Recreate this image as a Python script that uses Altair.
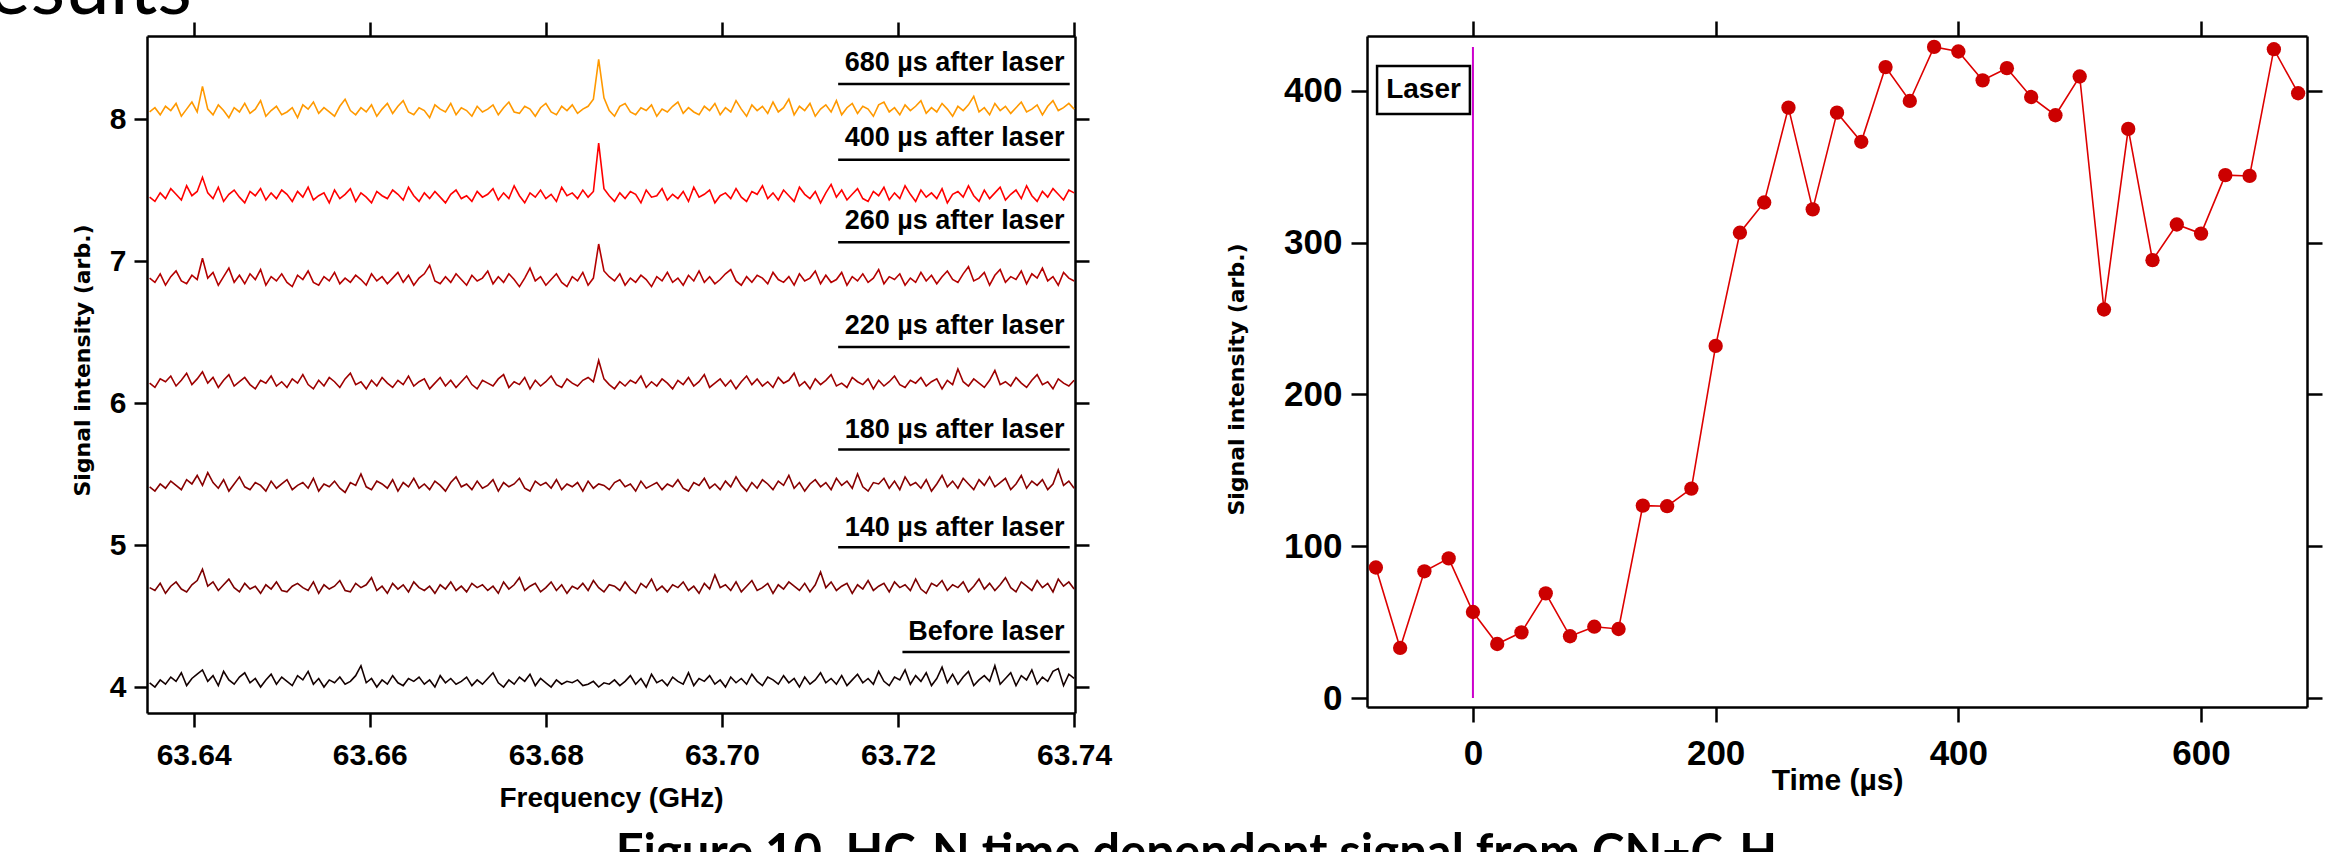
import altair as alt
import pandas as pd

# ---------------- left panel: spectra ----------------
trace_names = ["680 µs after laser", "400 µs after laser", "260 µs after laser",
               "220 µs after laser", "180 µs after laser", "140 µs after laser", "Before laser"]
trace_colors = ["#FF9900", "#FF0000", "#B40000", "#9E0000", "#880000", "#7C0000", "#140000"]
trace_base = [8.05, 7.44, 6.85, 6.12, 5.40, 4.68, 4.02]
freq_start = 63.635
freq_end = 63.740

# offsets from the trace baseline, in units of 0.01 (read/estimated from the picture)
off_680 = [0, 3, -2, 4, 1, 6, -3, 2, 7, 0, 18, 2, -2, 5, 1, -4, 3, 0, 6, -1,
           2, 8, -3, 1, 4, -2, 0, 3, -4, 5, 2, 7, -1, 3, 0, -3, 4, 9, 1, -2,
           3, 0, 5, -3, 2, 6, -1, 4, 8, 0, -2, 3, 1, -4, 5, 2, 0, 6, -2, 3,
           1, -3, 4, 0, 2, 5, -2, 3, 7, 0, -1, 4, 2, -3, 3, 6, 0, -2, 4, 1,
           5, -1, 2, 4, 9, 37, 10, 1, -3, 4, 6, 0, -2, 3, 1, 5, -3, 2, 0, 4,
           7, -1, 3, 0, -2, 4, 1, 6, -2, 3, 0, 8, 2, -3, 5, 1, 4, -1, 7, 0,
           3, 9, -2, 4, 1, 6, -3, 2, 5, 0, 8, -2, 3, 6, -1, 4, 2, -3, 5, 7,
           0, 3, -2, 5, 1, 4, 8, -1, 3, 0, 6, 2, -3, 4, 1, 5, 11, 0, 3, -2,
           6, 1, 4, -1, 3, 7, 0, 2, 5, -2, 4, 8, 1, 3, 6, 2]
off_400 = [1, -2, 4, 0, 7, 3, -1, 9, 2, 5, 15, 4, 0, 8, -2, 3, 6, 1, -3, 5,
           2, 7, -1, 4, 0, 6, 3, -2, 5, 1, 8, -1, 2, 4, -3, 6, 0, 3, 7, -2,
           4, 1, -3, 5, 2, 0, 6, 3, -1, 8, 2, -2, 4, 0, 5, 1, -3, 3, 6, 0,
           2, -2, 5, 1, 3, 7, -1, 4, 0, 9, 2, -3, 4, 1, 6, 0, 3, -2, 8, 2,
           4, 0, 6, 1, 5, 39, 7, 2, -2, 4, 0, 5, 3, -3, 6, 1, 2, 7, -1, 3,
           0, 5, -2, 8, 1, 3, 6, -3, 2, 4, 0, 7, 1, -2, 5, 3, 9, 0, 4, -1,
           6, 2, -2, 8, 3, 0, 5, -3, 4, 10, 1, 6, -1, 3, 7, 0, -2, 5, 2, 8,
           -1, 4, 0, 9, 3, -2, 6, 1, 4, 0, 7, -3, 3, 5, 1, 9, 2, -2, 6, 0,
           4, 8, -1, 3, 6, 0, 9, 2, -2, 5, 1, 7, 3, -1, 6, 4]
off_260 = [3, 0, 6, -2, 4, 8, 1, -1, 5, 2, 17, 3, 7, -2, 4, 10, 0, 5, -1, 6,
           2, 9, -2, 4, 1, 6, 0, -3, 5, 2, 8, 0, -2, 4, 1, 7, -1, 3, 0, 5,
           2, -2, 6, 1, 4, -1, 3, 7, 0, 5, -2, 3, 6, 12, 1, -1, 4, 0, 6, 2,
           -2, 5, 1, 3, 8, -1, 4, 0, 6, 2, -3, 3, 10, 1, 4, -2, 2, 6, 0, -3,
           4, 1, 7, -2, 3, 27, 8, 4, 1, 6, -2, 3, 0, 5, 2, -3, 4, 1, 7, 0,
           3, -2, 5, 1, 8, 0, 4, -1, 2, 6, 9, 1, -2, 4, 0, 5, 3, -1, 7, 2,
           0, 4, -2, 6, 1, 3, 8, -1, 5, 0, 2, 7, -2, 4, 1, 6, 0, 3, 9, -1,
           4, 2, 6, -2, 3, 0, 7, 1, 5, -1, 4, 8, 2, 0, 6, 11, 1, 3, 7, -2,
           5, 9, 0, 4, 2, 8, -1, 6, 3, 10, 1, 4, -2, 7, 3, 1]
off_220 = [2, -1, 5, 3, 7, 0, 4, 9, 1, 5, 10, 2, 6, -1, 4, 8, 0, 3, 6, 1,
           -2, 4, 2, 7, 0, 3, -1, 5, 2, 8, 1, -2, 4, 0, 6, 3, -1, 5, 9, 1,
           3, -2, 4, 0, 6, 2, -1, 4, 1, 7, 0, 3, 5, -2, 2, 6, 0, 4, -1, 3,
           7, 1, -2, 4, 2, 0, 5, 8, -1, 3, 1, 6, -2, 4, 0, 3, 7, 1, -1, 5,
           2, 0, 4, 6, 3, 18, 5, 1, -2, 3, 0, 4, 2, 7, -1, 3, 0, 5, 2, -2,
           4, 1, 6, 0, 3, 8, -1, 2, 5, 0, 4, -2, 3, 7, 1, 5, 0, 3, -1, 6,
           2, 4, 9, 0, 3, -2, 5, 1, 4, 8, 0, 2, -1, 6, 3, 1, 5, -2, 4, 0,
           3, 7, 1, -1, 4, 2, 6, 0, 3, 5, -2, 4, 1, 12, 3, 0, 5, 2, -1, 4,
           11, 1, 3, 0, 6, 2, -1, 4, 8, 1, 3, -2, 5, 2, 0, 4]
off_180 = [1, -2, 3, 0, 5, 2, -1, 6, 3, 9, 2, 11, 4, 0, 6, -2, 3, 8, 1, -1,
           4, 2, -2, 5, 0, 3, 6, -1, 2, 4, 0, 7, -2, 3, 1, 5, 0, -3, 4, 2,
           10, 1, -1, 5, 3, 0, 6, -2, 4, 1, 7, 0, 3, -1, 5, 2, -2, 4, 8, 1,
           3, -1, 5, 0, 2, 6, -2, 4, 1, 3, 7, 0, -2, 5, 2, 4, 0, 6, -1, 3,
           1, 4, -2, 5, 0, 3, 2, -1, 4, 6, 1, 3, -2, 5, 0, 2, 4, -1, 3, 1,
           6, 0, -2, 4, 2, 7, 0, 3, -1, 5, 1, 8, 2, -2, 4, 0, 6, 3, -1, 5,
           2, 9, 0, 4, -2, 3, 6, 1, 4, -1, 7, 2, 5, 0, 10, 1, -2, 4, 3, 7,
           0, 5, -1, 8, 2, 4, 0, 6, -2, 3, 9, 1, 5, 0, 7, 3, -1, 6, 2, 8,
           1, 4, 7, -1, 3, 9, 0, 5, 2, 6, -1, 3, 13, 2, 5, 0]
off_140 = [2, 0, 5, -2, 3, 6, 1, -1, 4, 7, 15, 3, 6, 0, 4, 8, 2, -1, 5, 1,
           3, -2, 4, 1, 6, 0, -1, 3, 5, 2, 0, 6, -2, 4, 1, 3, 7, 0, -1, 5,
           2, 4, 9, 0, 3, -2, 5, 1, 4, -1, 6, 2, 0, 3, -2, 4, 1, 6, 0, 3,
           -1, 5, 2, 4, 0, 3, -2, 6, 1, 4, 9, 0, 3, 5, -1, 2, 6, 0, 4, -2,
           3, 1, 5, 0, 7, 2, -1, 4, 3, 0, 6, 1, -2, 5, 2, 8, 0, 3, -1, 4,
           2, 6, 0, 3, -2, 5, 1, 11, 2, 4, 0, 6, -1, 3, 7, 0, 2, 5, -2, 4,
           1, 6, 3, 0, 5, -1, 4, 13, 2, 6, 0, 3, 5, -2, 4, 1, 7, 0, 3, 5,
           -1, 6, 2, 4, 0, 8, 1, -2, 5, 3, 7, 0, 4, 2, 6, -1, 3, 8, 1, 5,
           0, 4, 9, 2, -1, 6, 3, 0, 7, 2, 5, -1, 8, 3, 6, 1]
off_before = [1, -2, 3, 0, 5, 2, 8, -1, 4, 7, 10, 2, 6, -1, 9, 3, 0, 5, 8, 1,
              4, -2, 3, 7, 0, 5, 2, -1, 6, 3, 9, 0, 4, -2, 3, 1, 5, 0, 2, 6,
              13, 1, 4, -2, 3, 0, 6, 1, -1, 4, 2, 5, 0, 3, -2, 6, 1, 4, 0, 2,
              5, -1, 3, 0, 4, 8, 1, -2, 3, 0, 5, 2, 7, -1, 4, 1, -2, 3, 0, 2,
              1, 3, -1, 0, 2, -2, 1, 0, 3, -1, 2, 6, 0, 4, -2, 7, 1, 3, -1, 5,
              2, 0, 8, -1, 4, 2, 6, 0, 3, -2, 5, 1, 4, 0, 7, 2, -1, 5, 3, 0,
              6, 1, 4, -2, 5, 0, 3, 8, 1, 4, 0, 6, -1, 3, 7, 1, 4, 0, 9, 2,
              -1, 5, 3, 10, 0, 6, 2, 8, -1, 4, 12, 1, 7, 0, 5, 9, -1, 3, 6, 2,
              13, 0, 4, 8, -1, 6, 3, 10, 0, 5, 2, 9, 11, -1, 7, 4]
trace_offsets = [off_680, off_400, off_260, off_220, off_180, off_140, off_before]

label_y = [8.336, 7.807, 7.224, 6.487, 5.756, 5.066, 4.333]
underline_y = [8.247, 7.713, 7.132, 6.394, 5.672, 4.984, 4.246]
underline_x1 = [63.7132, 63.7132, 63.7132, 63.7132, 63.7132, 63.7132, 63.7205]
underline_x2 = [63.7395] * 7
label_x = [63.7389] * 7

freq_ticks = [63.64, 63.66, 63.68, 63.70, 63.72, 63.74]
left_y_ticks = [4, 5, 6, 7, 8]

# ---------------- right panel: time dependence ----------------
times = [-80, -60, -40, -20, 0, 20, 40, 60, 80, 100, 120, 140, 160, 180,
         200, 220, 240, 260, 280, 300, 320, 340, 360, 380, 400, 420, 440, 460,
         480, 500, 520, 540, 560, 580, 600, 620, 640, 660, 680]
signal = [86, 33, 83.5, 92, 56.7, 35.6, 43.3, 69, 40.7, 47, 45.5, 126.8, 126.4, 138,
          232, 306.6, 326.5, 389, 322, 385.7, 366.5, 415.7, 393.4, 429, 426, 407, 415, 396,
          384, 409.5, 256, 375, 288.5, 312, 306, 344.5, 344, 427.5, 398.5]
time_ticks = [0, 200, 400, 600]
right_y_ticks = [0, 100, 200, 300, 400]
laser_time = [0]
laser_span = [0, 429]
laser_box = [-79, -2.5, 384.8, 416.5]   # x1, x2, y1, y2 in data units
laser_label = ["Laser"]

page_heading = "Results"
caption_text = "Figure 10. HC₃N time dependent signal from CN+C₂H₂"

# ---------------- build tables ----------------
rows = []
for name, base, offs in zip(trace_names, trace_base, trace_offsets):
    n = len(offs)
    for i, d in enumerate(offs):
        rows.append({"name": name,
                     "freq": freq_start + (freq_end - freq_start) * i / (n - 1),
                     "val": base + d / 100.0})
df_tr = pd.DataFrame(rows)
df_lbl = pd.DataFrame({"name": trace_names, "lx": label_x, "ly": label_y,
                       "ux1": underline_x1, "ux2": underline_x2, "uy": underline_y})
df_sig = pd.DataFrame({"t": times, "s": signal})
df_laser = pd.DataFrame({"t": laser_time, "y1": [laser_span[0]], "y2": [laser_span[1]]})
df_box = pd.DataFrame({"x1": [laser_box[0]], "x2": [laser_box[1]], "y1": [laser_box[2]],
                       "y2": [laser_box[3]], "label": laser_label,
                       "xc": [(laser_box[0] + laser_box[1]) / 2],
                       "yc": [(laser_box[2] + laser_box[3]) / 2]})

FONT = "Liberation Sans"
TFONT = "DejaVu Sans"
ax = dict(domainColor="black", domainWidth=2.5, tickColor="black", tickWidth=2.5,
          grid=False, labelFont=FONT, labelFontWeight="bold", labelColor="black",
          titleColor="black", labelFlush=False, labelOverlap=False)

xs_l = alt.Scale(domain=[63.6347, 63.7401], nice=False, zero=False)
ys_l = alt.Scale(domain=[3.817, 8.585], nice=False, zero=False)

lines = alt.Chart(df_tr).mark_line(strokeWidth=1.6).encode(
    x=alt.X("freq:Q", scale=xs_l,
            axis=alt.Axis(values=freq_ticks, format=".2f", tickSize=14, labelFontSize=30,
                          labelPadding=13, title="Frequency (GHz)", titleFont=FONT,
                          titleFontSize=28, titleFontWeight="bold", titlePadding=14, **ax)),
    y=alt.Y("val:Q", scale=ys_l,
            axis=alt.Axis(values=left_y_ticks, format="d", tickSize=13, labelFontSize=30,
                          labelPadding=8, title="Signal intensity (arb.)", titleFont=TFONT,
                          titleFontSize=22, titleFontWeight="bold", titlePadding=15,
                          titleY=324, **ax)),
    color=alt.Color("name:N", scale=alt.Scale(domain=trace_names, range=trace_colors), legend=None),
    detail="name:N",
)
mirror_l = alt.Chart(df_lbl).mark_point(opacity=0).encode(
    x=alt.X("ux2:Q", scale=xs_l, title=None,
            axis=alt.Axis(orient="top", values=freq_ticks, labels=False, tickSize=14, **ax)),
    y=alt.Y("uy:Q", scale=ys_l, title=None,
            axis=alt.Axis(orient="right", values=left_y_ticks, labels=False, tickSize=14, **ax)),
)
labels = alt.Chart(df_lbl).mark_text(align="right", baseline="alphabetic", font=FONT,
                                     fontWeight="bold", fontSize=27, color="black").encode(
    x=alt.X("lx:Q", scale=xs_l, axis=None),
    y=alt.Y("ly:Q", scale=ys_l, axis=None),
    text="name:N",
)
underlines = alt.Chart(df_lbl).mark_rule(strokeWidth=2.5, color="black").encode(
    x=alt.X("ux1:Q", scale=xs_l, axis=None),
    x2="ux2:Q",
    y=alt.Y("uy:Q", scale=ys_l, axis=None),
)
page_title = alt.Chart(pd.DataFrame({"txt": [page_heading]})).mark_text(
    align="right", baseline="alphabetic", font="Lato", fontSize=80, color="black").encode(
    x=alt.value(45), y=alt.value(-22), text="txt:N")

left = alt.layer(lines, labels, underlines, page_title, mirror_l).resolve_axis(
    x="independent", y="independent").properties(width=928, height=677)

xs_r = alt.Scale(domain=[-87.3, 687.3], nice=False, zero=False)
ys_r = alt.Scale(domain=[-5.9, 436.2], nice=False, zero=False)

sig_line = alt.Chart(df_sig).mark_line(color="#DD0000", strokeWidth=1.6).encode(
    x=alt.X("t:Q", scale=xs_r,
            axis=alt.Axis(values=time_ticks, format="d", tickSize=15, labelFontSize=35,
                          labelPadding=14, title="Time (µs)", titleFont=FONT, titleFontSize=30,
                          titleFontWeight="bold", titlePadding=-6, **ax)),
    y=alt.Y("s:Q", scale=ys_r,
            axis=alt.Axis(values=right_y_ticks, format="d", tickSize=16, labelFontSize=35,
                          labelPadding=9, title="Signal intensity (arb.)", titleFont=TFONT,
                          titleFontSize=22, titleFontWeight="bold", titlePadding=35,
                          titleY=343, **ax)),
)
sig_pts = alt.Chart(df_sig).mark_circle(color="#CC0000", size=205, opacity=1).encode(
    x=alt.X("t:Q", scale=xs_r, axis=None),
    y=alt.Y("s:Q", scale=ys_r, axis=None),
)
laser_rule = alt.Chart(df_laser).mark_rule(color="#CC00CC", strokeWidth=2).encode(
    x=alt.X("t:Q", scale=xs_r, axis=None),
    y=alt.Y("y1:Q", scale=ys_r, axis=None),
    y2="y2:Q",
)
box = alt.Chart(df_box).mark_rect(fill="white", stroke="black", strokeWidth=2.5).encode(
    x=alt.X("x1:Q", scale=xs_r, axis=None), x2="x2:Q",
    y=alt.Y("y1:Q", scale=ys_r, axis=None), y2="y2:Q",
)
box_text = alt.Chart(df_box).mark_text(font=FONT, fontWeight="bold", fontSize=28,
                                       align="center", baseline="middle", color="black").encode(
    x=alt.X("xc:Q", scale=xs_r, axis=None),
    y=alt.Y("yc:Q", scale=ys_r, axis=None),
    text="label:N",
)
mirror_r = alt.Chart(df_sig).mark_point(opacity=0).encode(
    x=alt.X("t:Q", scale=xs_r, title=None,
            axis=alt.Axis(orient="top", values=time_ticks, labels=False, tickSize=15, **ax)),
    y=alt.Y("s:Q", scale=ys_r, title=None,
            axis=alt.Axis(orient="right", values=right_y_ticks, labels=False, tickSize=15, **ax)),
)
right = alt.layer(sig_line, laser_rule, sig_pts, box, box_text, mirror_r).resolve_axis(
    x="independent", y="independent").properties(width=940, height=671)

chart = alt.hconcat(left, right, spacing=113).properties(
    padding={"left": -60, "top": -50, "right": 0, "bottom": 0},
    background="white",
    title=alt.Title(caption_text, orient="bottom", anchor="start", dx=675, offset=18,
                    font="Lato", fontSize=49, fontWeight="bold", color="black"),
).configure_view(strokeWidth=0)

chart.save("out.html", embed_options={"renderer": "svg", "actions": False})
